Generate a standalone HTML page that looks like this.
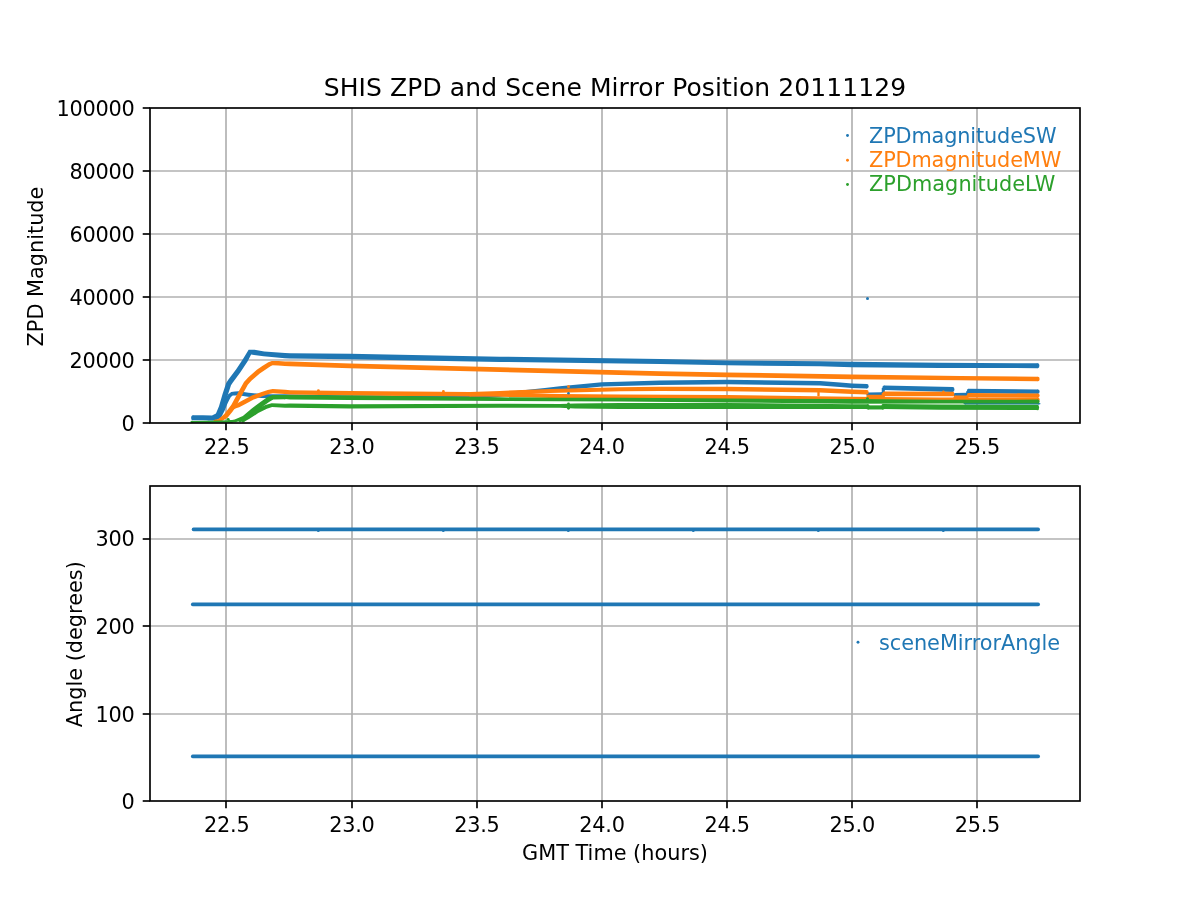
<!DOCTYPE html>
<html lang="en">
<head>
<meta charset="utf-8">
<title>SHIS ZPD and Scene Mirror Position 20111129</title>
<style>
html,body{margin:0;padding:0;background:#fff;}
body{width:1200px;height:900px;overflow:hidden;}
svg{display:block;}
text{font-family:"DejaVu Sans","Liberation Sans",sans-serif;font-size:20.833px;fill:#000;}
.title{font-size:25.000px;letter-spacing:0.095px;}
.tk{letter-spacing:-0.25px;}
.lg{letter-spacing:-0.14px;}
.lg2{letter-spacing:-0.05px;}
.lg3{letter-spacing:0.04px;}
.grid line{stroke:#b0b0b0;stroke-width:1.667;}
.ticks line{stroke:#000;stroke-width:1.667;}
.spine{fill:none;stroke:#000;stroke-width:1.667;stroke-linejoin:miter;}
.curve{fill:none;stroke-linecap:round;stroke-linejoin:round;}
.b{fill:#1f77b4;}.o{fill:#ff7f0e;}.g{fill:#2ca02c;}
</style>
</head>
<body>
<svg width="1200" height="900" viewBox="0 0 1200 900">
<rect x="0" y="0" width="1200" height="900" fill="#ffffff"/>
<!-- upper axes -->
<g class="grid">
<line x1="226" y1="108" x2="226" y2="423"/>
<line x1="352" y1="108" x2="352" y2="423"/>
<line x1="477" y1="108" x2="477" y2="423"/>
<line x1="602" y1="108" x2="602" y2="423"/>
<line x1="727" y1="108" x2="727" y2="423"/>
<line x1="852" y1="108" x2="852" y2="423"/>
<line x1="977" y1="108" x2="977" y2="423"/>
<line x1="150" y1="360" x2="1080" y2="360"/>
<line x1="150" y1="297" x2="1080" y2="297"/>
<line x1="150" y1="234" x2="1080" y2="234"/>
<line x1="150" y1="171" x2="1080" y2="171"/>
</g>
<g class="curves">
<polygon fill="#1f77b4" points="192.67,420.25 202.76,420.35 213.19,420.48 219.83,417.01 223.99,408.12 227.63,395.58 231.00,385.23 232.48,382.91 240.39,372.27 247.67,361.13 251.15,354.44 254.02,354.93 263.61,356.33 284.85,358.25 289.94,358.45 349.96,359.25 499.96,361.95 659.96,364.10 726.97,365.20 819.96,366.35 851.96,367.25 939.98,367.90 1037.79,368.15 1037.81,363.25 940.02,362.70 852.04,361.75 820.04,361.25 727.03,360.40 660.04,359.10 500.04,356.65 350.04,353.75 290.06,353.15 285.15,353.05 264.19,351.47 254.58,349.87 248.65,349.76 243.33,358.47 236.21,369.33 228.12,379.89 226.20,382.97 222.57,394.02 219.01,406.28 215.97,413.39 212.01,415.52 202.84,415.25 192.73,415.15"/>
<ellipse cx="192.7" cy="417.7" rx="1.6" ry="2.55" fill="#1f77b4"/>
<ellipse cx="1037.8" cy="365.7" rx="1.6" ry="2.45" fill="#1f77b4"/>
<polygon fill="#1f77b4" points="208.04,420.35 216.47,420.19 221.01,417.85 224.58,410.81 227.17,404.13 228.96,400.46 230.87,397.08 232.74,395.50 235.13,395.40 238.18,395.30 248.06,396.79 261.57,398.00 269.96,398.25 284.98,398.25 339.98,399.25 440.01,399.55 475.11,399.25 500.21,396.84 521.22,394.54 545.22,392.04 560.22,390.39 602.13,386.52 620.06,386.02 660.05,384.95 727.00,384.25 819.90,385.45 839.83,387.04 851.88,387.95 866.93,388.45 867.07,383.95 852.12,383.45 840.17,382.56 820.10,380.95 727.00,379.75 659.95,380.45 619.94,381.78 601.87,382.28 559.78,386.21 544.78,387.96 520.78,390.46 499.79,392.76 474.89,395.35 439.99,395.65 340.02,395.35 285.02,394.35 270.04,394.35 261.83,394.00 248.54,392.81 238.42,391.30 234.87,391.40 231.26,391.90 227.93,394.52 225.44,398.54 223.43,402.47 220.82,409.19 218.19,415.15 215.53,416.61 207.96,416.85"/>
<ellipse cx="208" cy="418.6" rx="1.6" ry="1.75" fill="#1f77b4"/>
<ellipse cx="867" cy="386.2" rx="1.6" ry="2.25" fill="#1f77b4"/>
<polygon fill="#1f77b4" points="868.03,396.45 882.03,396.25 881.97,392.35 867.97,392.55"/>
<ellipse cx="868" cy="394.5" rx="1.6" ry="1.95" fill="#1f77b4"/>
<ellipse cx="882" cy="394.3" rx="1.6" ry="1.95" fill="#1f77b4"/>
<polygon fill="#1f77b4" points="884.85,394.00 884.85,388.00 881.75,388.00 881.75,394.00"/>
<polygon fill="#1f77b4" points="883.94,389.90 952.74,391.90 952.86,387.10 884.06,385.50"/>
<ellipse cx="884" cy="387.7" rx="1.6" ry="2.2" fill="#1f77b4"/>
<ellipse cx="952.8" cy="389.5" rx="1.6" ry="2.4" fill="#1f77b4"/>
<polygon fill="#1f77b4" points="955.03,396.55 967.03,396.35 966.97,392.85 954.97,393.05"/>
<ellipse cx="955" cy="394.8" rx="1.6" ry="1.75" fill="#1f77b4"/>
<ellipse cx="967" cy="394.6" rx="1.6" ry="1.75" fill="#1f77b4"/>
<polygon fill="#1f77b4" points="969.05,394.40 969.05,391.20 966.15,391.20 966.15,394.40"/>
<polygon fill="#1f77b4" points="968.48,393.15 1037.98,393.85 1038.02,389.55 968.52,388.85"/>
<ellipse cx="968.5" cy="391" rx="1.6" ry="2.15" fill="#1f77b4"/>
<ellipse cx="1038" cy="391.7" rx="1.6" ry="2.15" fill="#1f77b4"/>
<polygon fill="#1f77b4" points="965.00,404.40 1039.00,404.50 1039.00,402.90 965.00,402.80"/>
<ellipse cx="965" cy="403.6" rx="1.6" ry="0.8" fill="#1f77b4"/>
<ellipse cx="1039" cy="403.7" rx="1.6" ry="0.8" fill="#1f77b4"/>
<polygon fill="#ff7f0e" points="215.10,421.44 218.81,421.41 222.45,420.76 227.54,417.86 232.63,411.55 235.62,407.32 238.71,401.24 241.50,396.14 247.80,384.68 251.63,380.59 259.74,373.50 265.31,369.65 270.47,366.24 272.60,365.21 278.18,365.45 284.87,366.05 289.93,366.30 349.93,368.20 499.94,372.05 659.95,376.05 726.96,377.20 851.97,379.20 959.97,380.30 1037.97,381.25 1038.03,376.75 960.03,375.90 852.03,374.40 727.04,372.40 660.05,371.35 500.06,367.35 350.07,363.40 290.07,361.50 285.13,361.45 278.42,360.95 271.80,360.89 268.33,362.16 262.69,365.75 256.86,369.80 248.37,377.21 244.00,381.92 237.40,393.86 234.49,398.96 231.38,404.68 228.57,408.45 224.06,414.14 220.55,417.24 218.19,418.99 214.90,419.76"/>
<ellipse cx="215" cy="420.6" rx="1.6" ry="0.85" fill="#ff7f0e"/>
<ellipse cx="1038" cy="379" rx="1.6" ry="2.25" fill="#ff7f0e"/>
<polygon fill="#ff7f0e" points="233.28,409.41 236.76,408.12 239.19,407.27 244.94,404.29 253.70,399.61 262.43,396.32 268.87,394.07 272.95,393.24 284.81,393.94 289.85,394.60 349.97,395.50 470.03,396.55 500.09,395.50 515.10,394.85 550.07,393.10 560.05,392.75 620.04,391.25 660.01,390.95 726.98,391.25 819.94,392.55 851.91,393.95 866.93,394.45 867.07,389.95 852.09,389.45 820.06,388.05 727.02,386.75 659.99,386.65 619.96,387.25 559.95,388.75 549.93,388.90 514.90,390.35 499.91,390.90 469.97,392.05 350.03,391.10 290.15,390.20 285.19,389.66 272.65,388.96 267.73,389.93 260.97,392.28 251.90,395.59 242.86,400.31 237.41,403.13 235.24,403.88 231.72,405.19"/>
<ellipse cx="232.5" cy="407.3" rx="1.6" ry="2.25" fill="#ff7f0e"/>
<ellipse cx="867" cy="392.2" rx="1.6" ry="2.25" fill="#ff7f0e"/>
<polygon fill="#ff7f0e" points="868.00,399.25 882.00,399.25 882.00,394.75 868.00,394.75"/>
<ellipse cx="868" cy="397" rx="1.6" ry="2.25" fill="#ff7f0e"/>
<ellipse cx="882" cy="397" rx="1.6" ry="2.25" fill="#ff7f0e"/>
<polygon fill="#ff7f0e" points="884.85,398.00 884.85,393.00 881.75,393.00 881.75,398.00"/>
<polygon fill="#ff7f0e" points="883.99,396.25 952.79,396.35 952.81,391.85 884.01,391.55"/>
<ellipse cx="884" cy="393.9" rx="1.6" ry="2.35" fill="#ff7f0e"/>
<ellipse cx="952.8" cy="394.1" rx="1.6" ry="2.25" fill="#ff7f0e"/>
<polygon fill="#ff7f0e" points="955.00,399.95 967.00,399.95 967.00,395.45 955.00,395.45"/>
<ellipse cx="955" cy="397.7" rx="1.6" ry="2.25" fill="#ff7f0e"/>
<ellipse cx="967" cy="397.7" rx="1.6" ry="2.25" fill="#ff7f0e"/>
<polygon fill="#ff7f0e" points="968.49,397.30 1037.99,397.70 1038.01,393.50 968.51,393.10"/>
<ellipse cx="968.5" cy="395.2" rx="1.6" ry="2.1" fill="#ff7f0e"/>
<ellipse cx="1038" cy="395.6" rx="1.6" ry="2.1" fill="#ff7f0e"/>
<polygon fill="#ff7f0e" points="469.97,396.45 499.96,396.85 559.97,398.15 619.99,398.65 726.98,399.15 851.98,400.65 939.99,401.35 1038.00,401.35 1038.00,397.45 940.01,397.45 852.02,396.75 727.02,395.05 620.01,394.55 560.03,394.05 500.04,392.75 470.03,392.35"/>
<ellipse cx="470" cy="394.4" rx="1.6" ry="2.05" fill="#ff7f0e"/>
<ellipse cx="1038" cy="399.4" rx="1.6" ry="1.95" fill="#ff7f0e"/>
<polygon fill="#2ca02c" points="192.01,422.80 232.01,422.45 231.99,420.35 191.99,421.00"/>
<ellipse cx="192" cy="421.9" rx="1.6" ry="1.05" fill="#2ca02c"/>
<ellipse cx="232" cy="421.4" rx="1.6" ry="1.2" fill="#2ca02c"/>
<polygon fill="#2ca02c" points="229.48,422.30 235.31,422.37 244.93,419.73 254.17,412.12 262.98,405.49 269.41,401.10 273.26,399.05 284.95,399.10 289.95,399.50 349.98,400.10 499.99,401.10 559.99,401.20 619.99,401.40 726.99,402.40 851.99,403.80 940.00,403.40 1038.00,403.60 1038.00,399.60 940.00,399.80 852.01,399.00 727.01,398.60 620.01,397.80 560.01,397.80 500.01,397.30 350.02,395.50 290.05,395.10 285.05,395.10 272.34,394.95 267.19,397.30 260.42,401.91 251.43,408.68 242.87,416.07 234.69,419.43 229.32,420.50"/>
<ellipse cx="229.4" cy="421.4" rx="1.6" ry="1.05" fill="#2ca02c"/>
<ellipse cx="1038" cy="401.6" rx="1.6" ry="2.15" fill="#2ca02c"/>
<polygon fill="#2ca02c" points="240.73,421.88 249.47,416.95 258.53,410.93 263.37,406.10 269.40,401.69 273.26,399.44 285.03,399.20 284.97,395.60 272.34,395.76 267.20,398.11 260.63,402.90 255.87,407.67 247.13,413.45 239.27,419.72"/>
<ellipse cx="240" cy="420.8" rx="1.6" ry="1.45" fill="#2ca02c"/>
<ellipse cx="285" cy="397.4" rx="1.6" ry="1.95" fill="#2ca02c"/>
<polygon fill="#2ca02c" points="243.76,422.06 249.44,418.85 258.26,413.12 266.85,408.71 272.12,406.99 284.99,407.80 290.03,407.65 349.99,408.45 500.00,407.85 559.99,407.87 574.99,408.60 620.00,409.10 726.99,409.10 851.99,409.00 868.00,409.00 868.00,404.20 852.01,404.20 727.01,402.90 620.00,402.90 575.01,403.40 560.01,403.93 500.00,403.75 350.01,404.35 289.97,403.55 285.01,403.80 271.68,403.21 265.35,404.89 256.14,409.48 247.16,415.55 242.24,419.94"/>
<ellipse cx="243" cy="421" rx="1.6" ry="1.45" fill="#2ca02c"/>
<ellipse cx="868" cy="406.6" rx="1.6" ry="2.55" fill="#2ca02c"/>
<polygon fill="#2ca02c" points="868.00,409.45 883.00,409.45 883.00,405.35 868.00,405.35"/>
<ellipse cx="868" cy="407.4" rx="1.6" ry="2.2" fill="#2ca02c"/>
<ellipse cx="883" cy="407.4" rx="1.6" ry="2.2" fill="#2ca02c"/>
<polygon fill="#2ca02c" points="882.97,409.05 939.98,409.80 1037.49,410.00 1037.51,404.80 940.02,404.60 883.03,403.95"/>
<ellipse cx="883" cy="406.5" rx="1.6" ry="2.7" fill="#2ca02c"/>
<ellipse cx="1037.5" cy="407.4" rx="1.6" ry="2.75" fill="#2ca02c"/>
<circle cx="867.5" cy="298.4" r="1.5" fill="#1f77b4"/>
<circle cx="568.5" cy="393.2" r="1.3" fill="#1f77b4"/>
<circle cx="318.4" cy="390.6" r="1.4" fill="#ff7f0e"/>
<circle cx="443.4" cy="391.4" r="1.4" fill="#ff7f0e"/>
<circle cx="568.5" cy="386.5" r="1.5" fill="#ff7f0e"/>
<circle cx="943.4" cy="391.8" r="1.3" fill="#ff7f0e"/>
<circle cx="818.5" cy="393" r="1.3" fill="#ff7f0e"/>
<circle cx="818.5" cy="395" r="1.3" fill="#ff7f0e"/>
<circle cx="568.5" cy="404" r="1.4" fill="#2ca02c"/>
<circle cx="568.5" cy="408.3" r="1.4" fill="#2ca02c"/>
<circle cx="867.5" cy="398.6" r="1.4" fill="#2ca02c"/>
<circle cx="228.2" cy="419.3" r="1.4" fill="#2ca02c"/>
</g>
<rect class="spine" x="150" y="108" width="930" height="315"/>
<g class="ticks">
<line x1="226" y1="423" x2="226" y2="430.29"/>
<line x1="352" y1="423" x2="352" y2="430.29"/>
<line x1="477" y1="423" x2="477" y2="430.29"/>
<line x1="602" y1="423" x2="602" y2="430.29"/>
<line x1="727" y1="423" x2="727" y2="430.29"/>
<line x1="852" y1="423" x2="852" y2="430.29"/>
<line x1="977" y1="423" x2="977" y2="430.29"/>
<line x1="142.71" y1="423" x2="150" y2="423"/>
<line x1="142.71" y1="360" x2="150" y2="360"/>
<line x1="142.71" y1="297" x2="150" y2="297"/>
<line x1="142.71" y1="234" x2="150" y2="234"/>
<line x1="142.71" y1="171" x2="150" y2="171"/>
<line x1="142.71" y1="108" x2="150" y2="108"/>
</g>
<text class="tk" x="226.75" y="454" text-anchor="middle">22.5</text>
<text class="tk" x="351.85" y="454" text-anchor="middle">23.0</text>
<text class="tk" x="476.95" y="454" text-anchor="middle">23.5</text>
<text class="tk" x="602.05" y="454" text-anchor="middle">24.0</text>
<text class="tk" x="727.15" y="454" text-anchor="middle">24.5</text>
<text class="tk" x="852.25" y="454" text-anchor="middle">25.0</text>
<text class="tk" x="977.35" y="454" text-anchor="middle">25.5</text>
<text class="tk" x="134.6" y="431" text-anchor="end">0</text>
<text class="tk" x="134.6" y="368" text-anchor="end">20000</text>
<text class="tk" x="134.6" y="305" text-anchor="end">40000</text>
<text class="tk" x="134.6" y="242" text-anchor="end">60000</text>
<text class="tk" x="134.6" y="179" text-anchor="end">80000</text>
<text class="tk" x="134.6" y="116" text-anchor="end">100000</text>
<text class="title" x="615" y="96.2" text-anchor="middle">SHIS ZPD and Scene Mirror Position 20111129</text>
<text transform="translate(43.3,266.5) rotate(-90)" text-anchor="middle">ZPD Magnitude</text>
<circle class="b" cx="847.5" cy="135.5" r="1.45"/>
<text class="b lg" x="869" y="143">ZPDmagnitudeSW</text>
<circle class="o" cx="847.5" cy="160.2" r="1.45"/>
<text class="o lg" x="869" y="167">ZPDmagnitudeMW</text>
<circle class="g" cx="847.5" cy="184.5" r="1.45"/>
<text class="g lg3" x="869" y="191">ZPDmagnitudeLW</text>
<!-- lower axes -->
<g class="grid">
<line x1="226" y1="486" x2="226" y2="801"/>
<line x1="352" y1="486" x2="352" y2="801"/>
<line x1="477" y1="486" x2="477" y2="801"/>
<line x1="602" y1="486" x2="602" y2="801"/>
<line x1="727" y1="486" x2="727" y2="801"/>
<line x1="852" y1="486" x2="852" y2="801"/>
<line x1="977" y1="486" x2="977" y2="801"/>
<line x1="150" y1="714" x2="1080" y2="714"/>
<line x1="150" y1="626" x2="1080" y2="626"/>
<line x1="150" y1="539" x2="1080" y2="539"/>
</g>
<g class="curves">
<line class="curve" stroke="#1f77b4" stroke-width="3.6" x1="193.5" y1="529.4" x2="1038.2" y2="529.4"/>
<line class="curve" stroke="#1f77b4" stroke-width="3.6" x1="192.7" y1="604.4" x2="1038.2" y2="604.4"/>
<line class="curve" stroke="#1f77b4" stroke-width="3.6" x1="192.7" y1="756.4" x2="1038.2" y2="756.4"/>
<circle cx="318.3" cy="530.7" r="1.4" fill="#1f77b4"/>
<circle cx="443.3" cy="530.7" r="1.4" fill="#1f77b4"/>
<circle cx="568.3" cy="530.7" r="1.4" fill="#1f77b4"/>
<circle cx="693.3" cy="530.7" r="1.4" fill="#1f77b4"/>
<circle cx="818.3" cy="530.7" r="1.4" fill="#1f77b4"/>
<circle cx="943.3" cy="530.7" r="1.4" fill="#1f77b4"/>
</g>
<rect class="spine" x="150" y="486" width="930" height="315"/>
<g class="ticks">
<line x1="226" y1="801" x2="226" y2="808.29"/>
<line x1="352" y1="801" x2="352" y2="808.29"/>
<line x1="477" y1="801" x2="477" y2="808.29"/>
<line x1="602" y1="801" x2="602" y2="808.29"/>
<line x1="727" y1="801" x2="727" y2="808.29"/>
<line x1="852" y1="801" x2="852" y2="808.29"/>
<line x1="977" y1="801" x2="977" y2="808.29"/>
<line x1="142.71" y1="801" x2="150" y2="801"/>
<line x1="142.71" y1="714" x2="150" y2="714"/>
<line x1="142.71" y1="626" x2="150" y2="626"/>
<line x1="142.71" y1="539" x2="150" y2="539"/>
</g>
<text class="tk" x="226.75" y="832" text-anchor="middle">22.5</text>
<text class="tk" x="351.85" y="832" text-anchor="middle">23.0</text>
<text class="tk" x="476.95" y="832" text-anchor="middle">23.5</text>
<text class="tk" x="602.05" y="832" text-anchor="middle">24.0</text>
<text class="tk" x="727.15" y="832" text-anchor="middle">24.5</text>
<text class="tk" x="852.25" y="832" text-anchor="middle">25.0</text>
<text class="tk" x="977.35" y="832" text-anchor="middle">25.5</text>
<text class="tk" x="134.6" y="809" text-anchor="end">0</text>
<text class="tk" x="134.6" y="722" text-anchor="end">100</text>
<text class="tk" x="134.6" y="634" text-anchor="end">200</text>
<text class="tk" x="134.6" y="546" text-anchor="end">300</text>
<text transform="translate(81.9,644.2) rotate(-90)" text-anchor="middle">Angle (degrees)</text>
<text x="615" y="860.2" text-anchor="middle">GMT Time (hours)</text>
<circle class="b" cx="858" cy="642.2" r="1.45"/>
<text class="b lg2" x="879" y="650">sceneMirrorAngle</text>
</svg>
</body>
</html>
